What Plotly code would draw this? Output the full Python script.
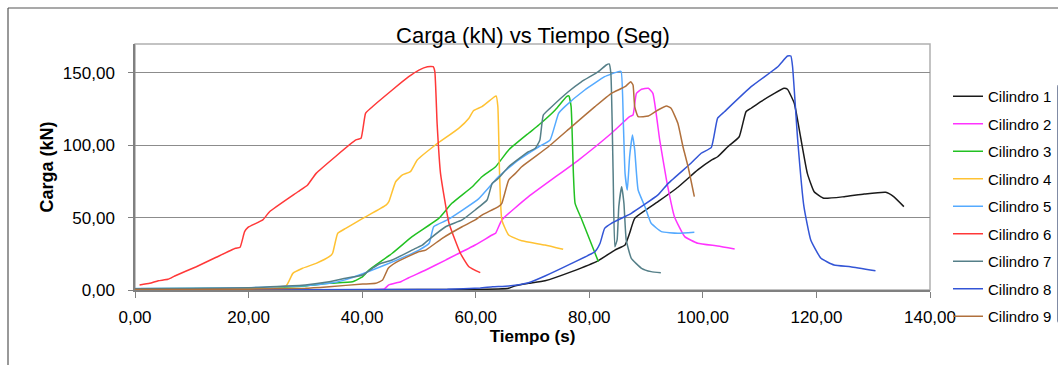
import plotly.graph_objects as go

# ---------------- data ----------------
names = ["Cilindro 1", "Cilindro 2", "Cilindro 3", "Cilindro 4", "Cilindro 5",
         "Cilindro 6", "Cilindro 7", "Cilindro 8", "Cilindro 9"]

t1 = [0, 20, 40, 60, 64, 65.8, 67, 69.3, 72.2, 76.9, 81.6, 84.5, 86.3, 87.1, 88.0, 92.1, 95.6, 99.1,
      101.5, 102.6, 104.4, 106.4, 107.6, 108.5, 110.2, 112.6, 114.3, 114.9, 116.1, 117.2, 118.4, 119.6,
      121.3, 124.9, 128.4, 132.2, 133.6, 135.4]
y1 = [0, 0.1, 0.2, 0.4, 0.7, 1.2, 3.0, 4.6, 6.4, 12.7, 20.3, 27.6, 31.1, 39.2, 49.5, 61, 71, 83,
      89.8, 92.1, 99, 105.9, 123.2, 125.6, 130.2, 135.9, 139.4, 138.7, 129, 105.9, 80.6, 67.9,
      63.4, 64.5, 66.3, 67.5, 64.5, 57.6]

t2 = [0, 20, 40, 43.9, 44.7, 46.8, 48.2, 51.2, 54.7, 59.9, 62.9, 63.5, 64.6, 69.3, 78.1, 83.9, 87.1,
      87.7, 88.3, 89.2, 90.4, 91.2, 92.4, 93.6, 95.0, 96.8, 99.1, 102.6, 105.6]
y2 = [0, 0, 0.2, 0.8, 3.5, 5.7, 8.5, 13.8, 20.7, 31.1, 38, 39.2, 48.4, 64.5, 89.8, 108.3, 119.8,
      120.9, 135.9, 138.7, 139.4, 135.9, 103.7, 76, 50.7, 36.9, 32.3, 30.4, 28.3]

t3 = [0, 10, 20, 30, 34.2, 38.3, 40.1, 41.2, 45.3, 48.8, 53.5, 55.8, 59.4, 61.1, 63.5, 65.8, 69.3,
      71.1, 74.0, 76.0, 76.4, 76.8, 77.2, 77.5, 78.7, 81.6]
y3 = [0.8, 1.0, 1.4, 2.8, 4.6, 5.7, 9.2, 13.8, 25.4, 36.9, 49.5, 59.9, 71.4, 78.3, 85.2, 96.8, 108.3,
      114, 124.4, 133.6, 134.1, 126.7, 80.6, 59.9, 48.4, 19.6]

t4 = [0, 10, 20, 26.6, 27.8, 29.5, 31.9, 34.2, 34.8, 35.7, 37.1, 40.1, 44.2, 44.7, 45.9, 47.1, 48.5,
      49.7, 52.9, 57.0, 58.8, 59.6, 61.1, 63.2, 63.6, 63.9, 64.2, 64.6, 65.8, 68.1, 72.2, 75.4]
y4 = [0.5, 0.8, 1.5, 2.8, 11.5, 15, 18.4, 23, 25.4, 39.2, 42.6, 49.5, 58.7, 61, 74.8, 79.5, 81.8,
      89.8, 100.2, 111.7, 118.7, 123.9, 126.7, 133.2, 134.1, 126.7, 80.6, 48.4, 38, 34, 31.1, 28.1]

t5 = [0, 10, 20, 30, 34.2, 37, 41.8, 46, 50, 51.8, 52.6, 55.0, 60.5, 64.0, 67.5, 71.1, 73.1, 74.6,
      75.7, 79.2, 82.7, 85.1, 85.6, 86.0, 86.3, 86.7, 87.1, 87.6, 88.0, 88.6, 89.8, 90.9, 92.7, 95.6, 98.5]
y5 = [1.0, 1.2, 1.6, 3.0, 4.6, 7, 13.8, 20.5, 27.6, 32.3, 43.7, 48.4, 63, 78.3, 89.8, 99, 103.7, 122.1,
      126.7, 138.2, 147.4, 150.9, 151, 115.2, 80.6, 69.1, 92.1, 107.1, 96.8, 69.1, 57.6, 46.1, 40.3, 39.2, 39.9]

t6 = [0.8, 2.6, 4.1, 5.8, 7.0, 10.8, 14.3, 17.7, 18.5, 19.3, 19.9, 22.5, 23.7, 28.7, 30.4, 31.9, 38.9,
      39.8, 40.6, 41.5, 45.3, 48.2, 50.0, 51.5, 52.5, 52.8, 53.2, 53.8, 55.3, 57.3, 58.8, 60.8]
y6 = [3.5, 4.6, 6.4, 7.4, 9.7, 16.1, 22.6, 28.8, 29.5, 40.3, 43.3, 48.4, 54.1, 67.9, 72.6, 80.6, 103.7,
      104.8, 122.1, 125.6, 138.2, 147.4, 152, 154.3, 154.3, 150.9, 115.2, 80.6, 46.1, 25.4, 16.1, 12.0]

t7 = [0, 10, 20, 30, 34.2, 37.1, 40.1, 41.8, 43.0, 45.3, 49.4, 50.6, 51.8, 54.7, 57.6, 59.9, 62.0, 62.9,
      64.0, 65.8, 69.3, 70.5, 71.3, 71.9, 73.1, 76.3, 78.6, 81.6, 83.0, 83.5, 83.8, 84.2, 84.5, 84.9,
      85.2, 85.7, 86.1, 86.5, 87.4, 89.2, 90.9, 92.6]
y7 = [0.8, 1.0, 1.5, 3.5, 5.7, 8.1, 10.4, 15, 18.0, 20.7, 28.8, 31, 35, 43.7, 48.4, 55.3, 62.2, 73.7,
      77.2, 85.2, 95.6, 97.9, 103.7, 120.9, 125.6, 137, 143.9, 150.9, 155.5, 156.2, 149.8, 80.6, 29.9, 34.6,
      57.6, 71.4, 59.9, 34.6, 21.9, 15, 12.7, 12.0]

t8 = [0, 20, 40, 55, 60.8, 63, 65.8, 69.3, 72.2, 76.9, 81.0, 81.9, 82.7, 83.9, 87.4, 92.1, 93.9, 97.9,
      99.7, 101.5, 102.6, 103.8, 108.5, 113.2, 114.9, 115.5, 115.8, 116.7, 117.8, 119.0, 120.8, 123.1,
      126.0, 130.4]
y8 = [0.1, 0.2, 0.3, 0.5, 1.4, 2.2, 2.8, 5.0, 9.7, 18.4, 26.5, 32.3, 42.6, 46.1, 53, 65.7, 73.7, 87.6,
      94.5, 98.6, 118.7, 123.2, 140.5, 154.3, 161.7, 161.7, 154.3, 103.7, 57.6, 34.6, 21.9, 17.3,
      16.1, 13.3]

t9 = [0, 10, 20, 30, 34.2, 40.1, 42.4, 43.6, 44.6, 45.9, 50.0, 51.2, 54.1, 57.6, 59.9, 61.1, 64.0, 64.6,
      65.8, 67.0, 68.1, 72.8, 76.9, 81.0, 83.9, 86.3, 87.3, 87.7, 88.0, 88.6, 90.4, 92.1, 93.6, 94.4,
      95.6, 96.5, 97.4, 98.5]
y9 = [0.3, 0.4, 0.6, 1.2, 2.3, 4.1, 4.6, 6.9, 15, 18.9, 26.5, 27.6, 35.7, 43.7, 48.4, 51.8, 57.6, 59.9,
      76, 80.6, 85.2, 99, 112.9, 126.7, 135.9, 140.5, 143.9, 141.7, 126.7, 119.8, 120.2, 124.4, 127.2, 125.6,
      115.2, 99, 85.2, 64.5]

x_ticks = [0, 20, 40, 60, 80, 100, 120, 140]
y_ticks = [0, 50, 100, 150]

# ---------------- styling ----------------
colors = ["#1a1a1a", "#ff33ff", "#22c122", "#ffc233", "#55aaff",
          "#ff3838", "#557f88", "#3355d6", "#b0703c"]
series_t = [t1, t2, t3, t4, t5, t6, t7, t8, t9]
series_y = [y1, y2, y3, y4, y5, y6, y7, y8, y9]

FONT = "Liberation Sans, Arial, sans-serif"
W, H = 1058, 365
L_, R_, T_, B_ = 135, 930, 44, 290  # plot area in pixels
pw, ph = R_ - L_, B_ - T_

def px_x(p):
    return (p - L_) / pw

def px_y(p):
    return (B_ - p) / ph

fig = go.Figure()
for i, (n, tx, ty) in enumerate(zip(names, series_t, series_y)):
    fig.add_trace(go.Scatter(x=tx, y=ty, mode="lines", name=n, legendgroup=n,
                             line=dict(color=colors[i], width=1.5, shape="spline", smoothing=0.4)))

fig.update_layout(
    width=W, height=H,
    margin=dict(l=L_, r=W - R_, t=T_, b=H - B_, autoexpand=False),
    paper_bgcolor="white", plot_bgcolor="white",
    separators=",.",
    font=dict(family=FONT, size=17, color="#000000"),
    title=dict(text="Carga (kN) vs Tiempo (Seg)", x=533 / W, xanchor="center",
               y=1 - 35 / H, yanchor="middle", font=dict(size=22, family=FONT, color="#000000")),
    showlegend=True,
    legend=dict(x=px_x(948), y=px_y(80), xanchor="left", yanchor="top",
                font=dict(size=15, family=FONT, color="#000000"),
                traceorder="grouped", tracegroupgap=5, bgcolor="rgba(0,0,0,0)",
                itemwidth=30),
)

fig.update_xaxes(range=[0, 140], tickvals=x_ticks, tickformat=".2f",
                 showgrid=False, zeroline=False,
                 showline=True, linecolor="#808080", linewidth=1.5,
                 ticks="outside", ticklen=6, tickcolor="#808080", tickwidth=1,
                 ticklabelstandoff=5,
                 title=dict(text="<b>Tiempo (s)</b>", font=dict(size=17, family=FONT), standoff=0))
fig.update_yaxes(range=[0, 170], tickvals=y_ticks, tickformat=".2f",
                 showgrid=True, gridcolor="#8c8c8c", gridwidth=1, zeroline=False,
                 showline=True, linecolor="#808080", linewidth=1.5,
                 ticks="outside", ticklen=5, tickcolor="#808080", tickwidth=1,
                 ticklabelstandoff=10,
                 title=dict(text="<b>Carga (kN)</b>", font=dict(size=18, family=FONT), standoff=5))

# plot-area border (top / right) in light gray
fig.add_shape(type="rect", xref="paper", yref="paper", x0=0, x1=1, y0=0, y1=1,
              line=dict(color="#b0b0b0", width=1.5), layer="below")
# outer chart frame (top and left edges visible)
fig.add_shape(type="line", xref="paper", yref="paper", x0=px_x(8), x1=px_x(1060), y0=px_y(8), y1=px_y(8),
              line=dict(color="#555555", width=1.2))
fig.add_shape(type="line", xref="paper", yref="paper", x0=px_x(8), x1=px_x(8), y0=px_y(8), y1=px_y(368),
              line=dict(color="#555555", width=1.2))

fig.write_html("out.html")
